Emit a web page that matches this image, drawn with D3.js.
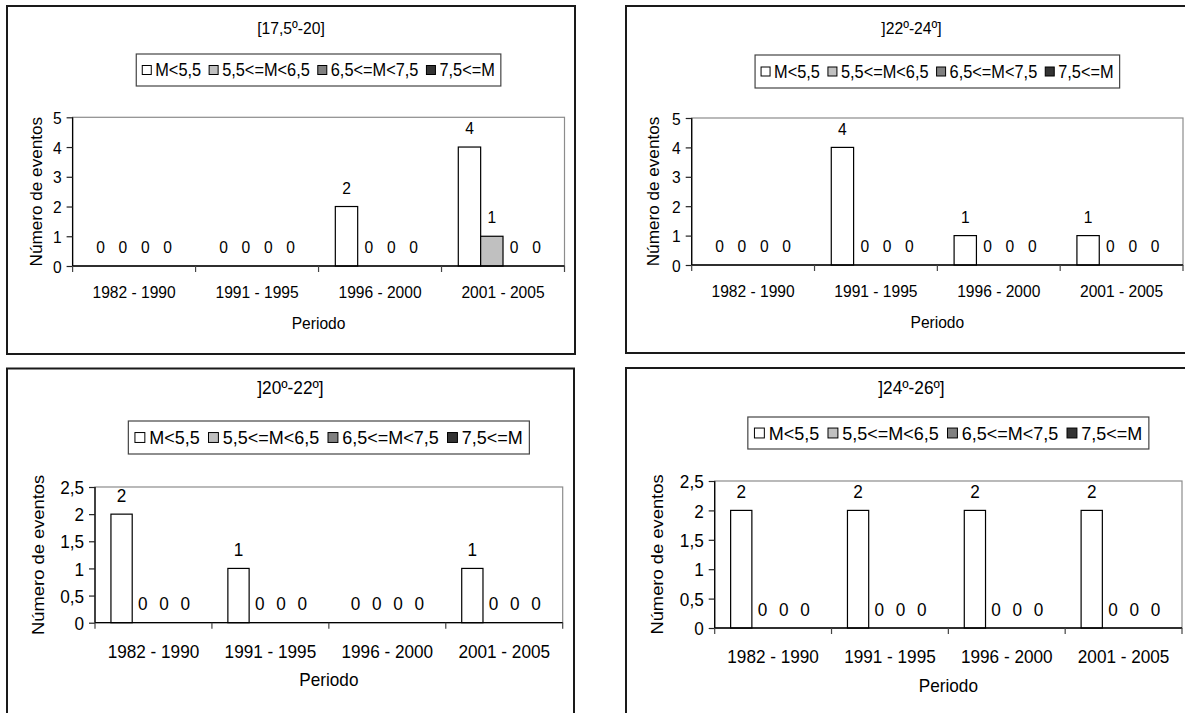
<!DOCTYPE html>
<html>
<head>
<meta charset="utf-8">
<script src="https://cdn.jsdelivr.net/npm/d3@7/dist/d3.min.js"></script>
<style>
  html, body { margin: 0; padding: 0; background: #fff; }
  svg { display: block; }
  text { font-family: Arial, "Liberation Sans", sans-serif; fill: #000; }
</style>
</head>
<body>
<svg id="chart" width="1185" height="713"></svg>
<script>
// Periods on the category axis
const categories = ["1982 - 1990", "1991 - 1995", "1996 - 2000", "2001 - 2005"];
// Magnitude classes (one bar series each)
const magnitudeClasses = ["M<5,5", "5,5<=M<6,5", "6,5<=M<7,5", "7,5<=M"];

// Event counts per latitude band: one row per magnitude class, one column per period
const band17_20 = [[0, 0, 2, 4], [0, 0, 0, 1], [0, 0, 0, 0], [0, 0, 0, 0]];
const band22_24 = [[0, 4, 1, 1], [0, 0, 0, 0], [0, 0, 0, 0], [0, 0, 0, 0]];
const band20_22 = [[2, 1, 0, 1], [0, 0, 0, 0], [0, 0, 0, 0], [0, 0, 0, 0]];
const band24_26 = [[2, 2, 2, 2], [0, 0, 0, 0], [0, 0, 0, 0], [0, 0, 0, 0]];

// Panel titles and y-axis ticks
const titles = ["[17,5º-20]", "]22º-24º]", "]20º-22º]", "]24º-26º]"];
const ticksToFive = [0, 1, 2, 3, 4, 5];
const ticksToTwoAndHalf = [0, 0.5, 1, 1.5, 2, 2.5];

const yTitle = "Número de eventos";
const xTitle = "Periodo";

// Fill per magnitude class
const classFills = ["#ffffff", "#c0c0c0", "#808080", "#333333"];

// Where each panel sits on the page; s = text size factor, k = glyph height stretch
const panels = [
  { title: titles[0], data: band17_20, ticks: ticksToFive,
    frame: [7, 6, 575, 354], plot: [72.6, 117.3, 564.5, 266],
    titleY: 28, legendY: 54, legendH: 32, yLabelX: 36, s: 1, k: 1.1 },
  { title: titles[1], data: band22_24, ticks: ticksToFive,
    frame: [626, 6, 1197, 353], plot: [691.7, 118, 1183, 265],
    titleY: 28, legendY: 55, legendH: 33, yLabelX: 653, s: 1, k: 1.1 },
  { title: titles[2], data: band20_22, ticks: ticksToTwoAndHalf,
    frame: [7, 368.5, 574, 722], plot: [95, 487, 562.7, 622.7],
    titleY: 387, legendY: 421, legendH: 33, yLabelX: 37.6, s: 1.1, k: 1.07 },
  { title: titles[3], data: band24_26, ticks: ticksToTwoAndHalf,
    frame: [626, 368, 1197, 722], plot: [714.7, 481, 1182, 628],
    titleY: 387, legendY: 417, legendH: 32, yLabelX: 657, s: 1.1, k: 1.07 }
];

const svg = d3.select("#chart");
svg.append("rect").attr("width", 1185).attr("height", 713).attr("fill", "#fff");

const fmt = v => String(v).replace(".", ",");

// Place a text centred vertically on (x, y), glyphs stretched vertically by k
function placeText(sel, x, y, k) {
  return sel.attr("x", 0).attr("y", 0).attr("dy", "0.36em")
    .attr("transform", `translate(${x},${y}) scale(1,${k})`);
}

panels.forEach(p => {
  const g = svg.append("g");
  const [fx0, fy0, fx1, fy1] = p.frame;
  const [px0, py0, px1, py1] = p.plot;
  const k = p.k;
  const axisFont = 15.6 * p.s;
  const legendFont = 16.35 * p.s;
  const titleFont = 15.7 * p.s;

  // Outer chart frame
  g.append("rect")
    .attr("x", fx0).attr("y", fy0)
    .attr("width", fx1 - fx0).attr("height", fy1 - fy0)
    .attr("fill", "#fff").attr("stroke", "#1a1a1a").attr("stroke-width", 2);

  // Title
  placeText(g.append("text"), (fx0 + fx1) / 2, p.titleY, k)
    .attr("text-anchor", "middle").attr("font-size", titleFont)
    .text(p.title);

  // Scales
  const x0 = d3.scaleBand().domain(categories).range([px0, px1]).padding(0);
  const bw = x0.bandwidth();
  const x1 = d3.scaleBand().domain(d3.range(magnitudeClasses.length))
    .range([bw * 0.75 / 5.5, bw * 4.75 / 5.5]).padding(0);
  const yMax = p.ticks[p.ticks.length - 1];
  const y = d3.scaleLinear().domain([0, yMax]).range([py1, py0]);

  // Plot-area border (top and right in grey)
  g.append("rect")
    .attr("x", px0).attr("y", py0)
    .attr("width", px1 - px0).attr("height", py1 - py0)
    .attr("fill", "none").attr("stroke", "#8c8c8c").attr("stroke-width", 1.2);

  // Bars
  const cells = [];
  p.data.forEach((row, si) => row.forEach((v, ci) => cells.push({ si, ci, v })));

  g.append("g").selectAll("rect")
    .data(cells.filter(d => d.v > 0))
    .join("rect")
    .attr("x", d => x0(categories[d.ci]) + x1(d.si))
    .attr("y", d => y(d.v))
    .attr("width", x1.bandwidth())
    .attr("height", d => y(0) - y(d.v))
    .attr("fill", d => classFills[d.si])
    .attr("stroke", "#000").attr("stroke-width", 1.2);

  // Value labels above every bar
  g.append("g").selectAll("text")
    .data(cells)
    .join("text")
    .each(function (d) {
      placeText(d3.select(this),
        x0(categories[d.ci]) + x1(d.si) + x1.bandwidth() / 2, y(d.v) - 19, k);
    })
    .attr("text-anchor", "middle").attr("font-size", axisFont)
    .text(d => fmt(d.v));

  // Y axis
  const yAxis = g.append("g")
    .attr("transform", `translate(${px0},0)`)
    .call(d3.axisLeft(y).tickValues(p.ticks).tickFormat(fmt).tickSize(6).tickPadding(5));
  yAxis.select(".domain").attr("stroke", "#000").attr("stroke-width", 1.3).attr("d", `M0,${py0}V${py1}`);
  yAxis.selectAll(".tick line").attr("stroke", "#222").attr("stroke-width", 1.2);
  yAxis.selectAll(".tick text")
    .attr("font-size", axisFont).attr("font-family", null).attr("fill", "#000")
    .attr("dy", "0.36em").attr("transform", `scale(1,${k})`);

  // X axis: ticks at category boundaries, labels centred in each band
  const xAxis = g.append("g").attr("transform", `translate(0,${py1})`);
  xAxis.append("line")
    .attr("x1", px0).attr("x2", px1)
    .attr("stroke", "#000").attr("stroke-width", 1.3);
  const bounds = categories.map(c => x0(c)).concat([px1]);
  xAxis.selectAll("line.tk").data(bounds).join("line").attr("class", "tk")
    .attr("x1", d => d).attr("x2", d => d).attr("y1", 0).attr("y2", 6)
    .attr("stroke", "#444").attr("stroke-width", 1.2);
  xAxis.selectAll("text").data(categories).join("text")
    .each(function (d) { placeText(d3.select(this), x0(d) + bw / 2, 26 * p.s, k); })
    .attr("text-anchor", "middle").attr("font-size", axisFont)
    .text(d => d);

  // Axis titles
  placeText(g.append("text"), (px0 + px1) / 2, py1 + 57, k)
    .attr("text-anchor", "middle").attr("font-size", axisFont)
    .text(xTitle);
  g.append("text")
    .attr("transform", `translate(${p.yLabelX},${(py0 + py1) / 2}) rotate(-90) scale(${k},1)`)
    .attr("dy", "0.36em")
    .attr("text-anchor", "middle").attr("font-size", axisFont)
    .text(yTitle);

  // Legend
  const lg = g.append("g");
  const sw = 9 * p.s, gapIn = 4 * p.s, gapOut = 8 * p.s, pad = 6 * p.s;
  const items = lg.selectAll("g").data(magnitudeClasses).join("g");
  items.append("rect")
    .attr("width", sw).attr("height", sw)
    .attr("fill", (d, i) => classFills[i])
    .attr("stroke", "#000").attr("stroke-width", 1);
  items.append("text")
    .each(function () { placeText(d3.select(this), sw + gapIn, sw / 2, k); })
    .attr("font-size", legendFont)
    .text(d => d);
  let cursor = pad;
  items.each(function () {
    const w = d3.select(this).select("text").node().getComputedTextLength();
    d3.select(this).attr("transform", `translate(${cursor},${(p.legendH - sw) / 2})`);
    cursor += sw + gapIn + w + gapOut;
  });
  const totalW = cursor - gapOut + pad;
  const lx = (px0 + px1) / 2 - totalW / 2;
  lg.insert("rect", ":first-child")
    .attr("width", totalW).attr("height", p.legendH)
    .attr("fill", "#fff").attr("stroke", "#444").attr("stroke-width", 1.2);
  lg.attr("transform", `translate(${lx},${p.legendY})`);
});
</script>
</body>
</html>
